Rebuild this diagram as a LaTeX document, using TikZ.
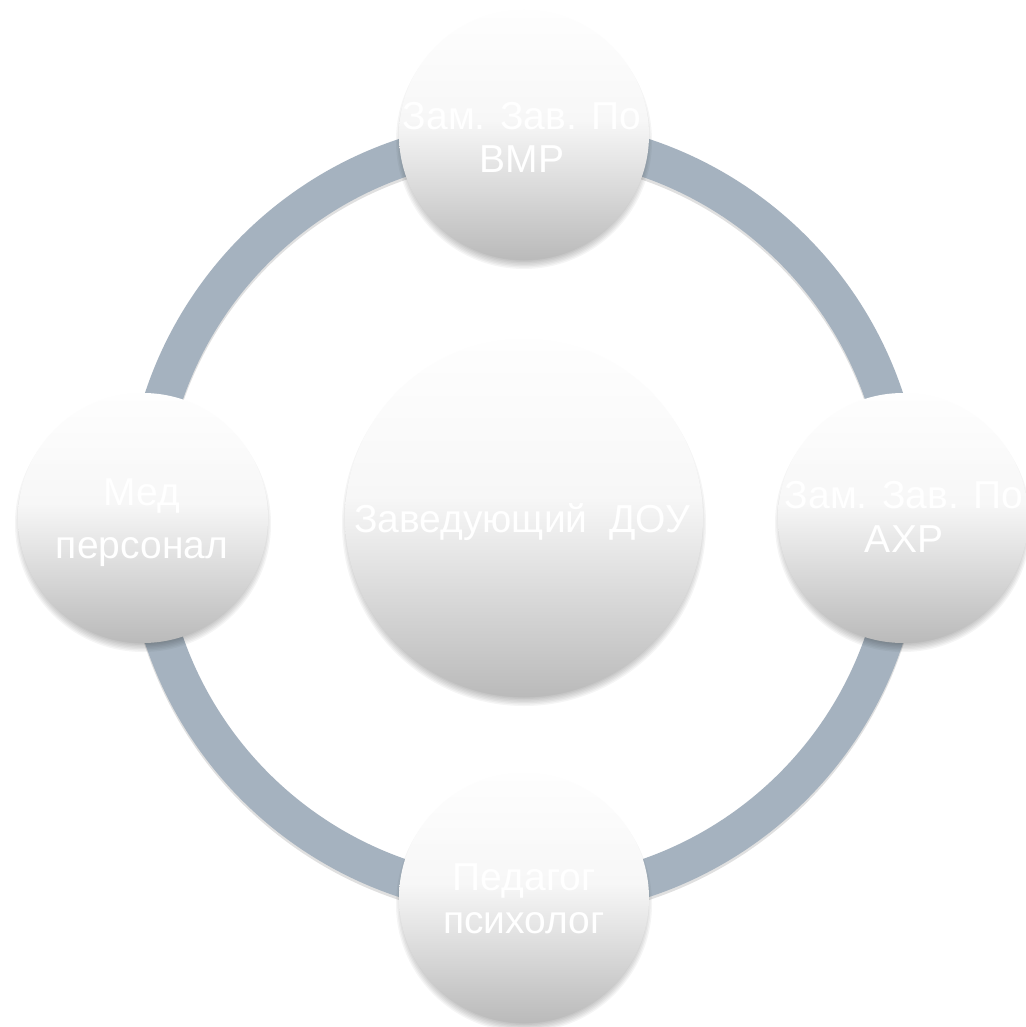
\documentclass[tikz,border=0pt]{standalone}
\usepackage{fontspec}
\setmainfont{Liberation Sans}
\usetikzlibrary{calc}
\definecolor{ringc}{HTML}{A5B2BF}
\definecolor{gtop}{HTML}{FEFEFE}
\definecolor{gmid}{HTML}{F7F7F7}
\definecolor{glow}{HTML}{E4E4E4}
\definecolor{gbot}{HTML}{BABABA}
\pgfdeclareverticalshading{ball}{100bp}{color(0bp)=(gbot); color(25bp)=(gbot); color(44bp)=(glow); color(53bp)=(gmid); color(75bp)=(gtop); color(100bp)=(gtop)}
\tikzset{
  ball/.style={circle, draw=none, shading=ball, inner sep=0pt},
  small/.style={ball, minimum size=250pt},
  big/.style={ball, minimum size=358pt},
  lbl/.style={text=white, font=\fontsize{39}{41}\selectfont, inner sep=0pt, anchor=base},
  shadowc/.style={fill=black, opacity=0.04, draw=none}
}
\newcommand{\softshadow}[3]{%
  \foreach \k in {0,...,7}{\fill[shadowc] ($(#1,#2)+(0,6)$) circle ({#3+3-\k*1.4});}}
\begin{document}
\begin{tikzpicture}[x=1pt,y=-1pt]
\useasboundingbox (0,0) rectangle (1025,1027);
\fill[white] (0,0) rectangle (1025,1027);
\coordinate (O) at (524,518);
% ring
\draw[black, opacity=0.12, line width=38pt] ($(O)+(0,3)$) circle (380);
\draw[ringc, line width=38pt] (O) circle (380);
% shadows
\softshadow{524}{135}{125}
\softshadow{903}{518}{125}
\softshadow{524}{898}{125}
\softshadow{143}{518}{125}
\softshadow{524}{518}{179}
% circles
\node[small] (top) at (524,135) {};
\node[small] (right) at (903,518) {};
\node[small] (bottom) at (524,898) {};
\node[small] (left) at (143,518) {};
\node[big] (c) at (O) {};
% labels
\node[lbl] (top1) at (522,130) {Зам. Зав. По};
\node[lbl] (top2) at (522,172) {ВМР};
\node[lbl] (right1) at (904,508) {Зам. Зав. По};
\node[lbl] (right2) at (904,552) {АХР};
\node[lbl] (bottom1) at (524,890) {Педагог};
\node[lbl] (bottom2) at (524,933) {психолог};
\node[lbl] (left1) at (142,505) {Мед};
\node[lbl] (left2) at (142,558) {персонал};
\node[lbl] (c1) at (522,532) {Заведующий\ \ ДОУ};
\end{tikzpicture}
\end{document}
